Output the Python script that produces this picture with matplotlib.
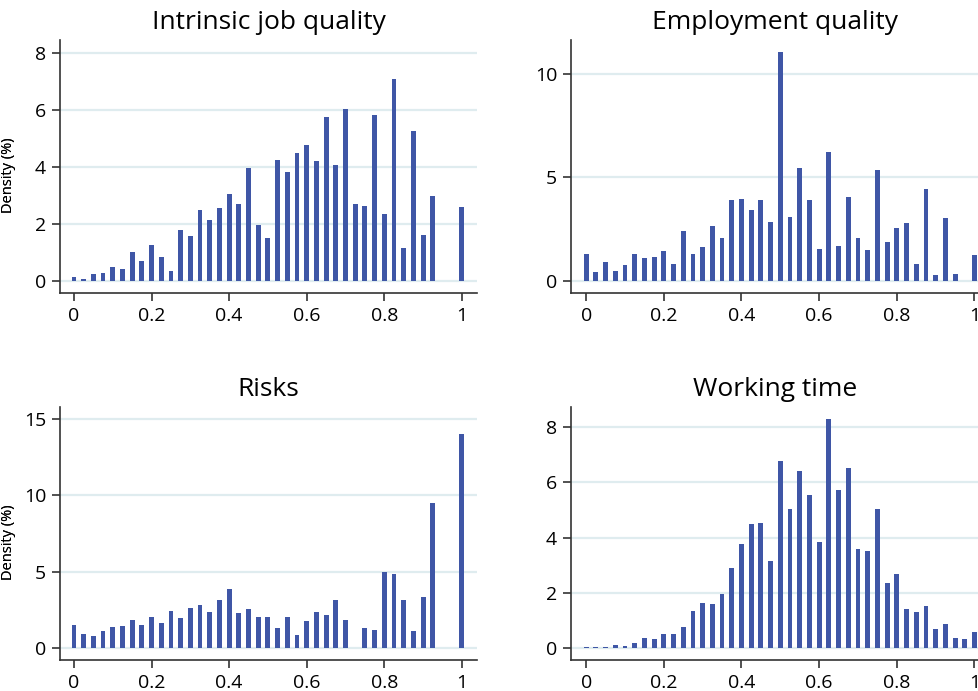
import numpy as np
import matplotlib
matplotlib.use("Agg")
import matplotlib.pyplot as plt

plt.rcParams['font.family'] = ['Open Sans', 'DejaVu Sans']

bins = [i / 40 for i in range(41)]

titles = ["Intrinsic job quality", "Employment quality", "Risks", "Working time"]

intrinsic = [0.14, 0.05, 0.23, 0.26, 0.48, 0.41, 0.99, 0.70, 1.27, 0.83,
             0.34, 1.78, 1.57, 2.49, 2.14, 2.54, 3.04, 2.70, 3.94, 1.97,
             1.50, 4.23, 3.81, 4.47, 4.75, 4.21, 5.74, 4.05, 6.02, 2.69,
             2.62, 5.81, 2.34, 7.09, 1.16, 5.25, 1.60, 2.96, 0.0, 0.0, 2.58]

employment = [1.27, 0.42, 0.93, 0.48, 0.77, 1.30, 1.11, 1.16, 1.45, 0.81,
              2.42, 1.30, 1.64, 2.64, 2.08, 3.91, 3.95, 3.40, 3.91, 2.82,
              11.06, 3.08, 5.46, 3.88, 1.55, 6.22, 1.67, 4.03, 2.08, 1.48,
              5.35, 1.87, 2.54, 2.80, 0.82, 4.44, 0.27, 3.04, 0.34, 0.0, 1.24]

risks = [1.51, 0.92, 0.81, 1.09, 1.36, 1.47, 1.86, 1.49, 2.01, 1.64,
         2.43, 1.97, 2.60, 2.80, 2.34, 3.15, 3.89, 2.32, 2.54, 2.06,
         2.06, 1.33, 2.04, 0.83, 1.77, 2.36, 2.17, 3.17, 1.82, 0.0,
         1.30, 1.19, 5.00, 4.83, 3.15, 1.12, 3.35, 9.50, 0.0, 0.0, 14.0]

working = [0.04, 0.04, 0.04, 0.11, 0.07, 0.20, 0.36, 0.33, 0.51, 0.51,
           0.78, 1.33, 1.62, 1.60, 1.97, 2.90, 3.76, 4.51, 4.52, 3.16,
           6.77, 5.03, 6.42, 5.56, 3.84, 8.29, 5.74, 6.51, 3.58, 3.51,
           5.03, 2.36, 2.70, 1.40, 1.29, 1.51, 0.68, 0.86, 0.36, 0.33, 0.58]

series = [intrinsic, employment, risks, working]
yticks = [[0, 2, 4, 6, 8], [0, 5, 10], [0, 5, 10, 15], [0, 2, 4, 6, 8]]
ylims = [(-0.43, 8.44), (-0.59, 11.63), (-0.79, 15.8), (-0.43, 8.73)]
xticks = [0, 0.2, 0.4, 0.6, 0.8, 1]
xticklabels = ["0", "0.2", "0.4", "0.6", "0.8", "1"]

W, H = 979, 691
fig = plt.figure(figsize=(W / 100, H / 100), dpi=100)

boxes = [(60, 477, 40, 293), (571, 979, 40, 293), (60, 477, 407, 660), (571, 979, 407, 660)]
xlims = [(-0.036, 1.039), (-0.039, 1.0116), (-0.036, 1.039), (-0.039, 1.0116)]

bar_color = "#3f56a6"
grid_color = "#dfecef"

for i in range(4):
    l, r, t, b = boxes[i]
    ax = fig.add_axes([l / W, (H - b) / H, (r - l) / W, (b - t) / H])
    ax.bar(bins, series[i], width=0.0125, color=bar_color, linewidth=0, zorder=3)
    ax.set_xlim(*xlims[i])
    ax.set_ylim(*ylims[i])
    ax.set_yticks(yticks[i])
    ax.set_xticks(xticks)
    ax.set_xticklabels(xticklabels)
    for y in yticks[i]:
        ax.axhline(y, color=grid_color, linewidth=1.6, zorder=1)
    for s in ["top", "right"]:
        ax.spines[s].set_visible(False)
    for s in ["left", "bottom"]:
        ax.spines[s].set_color("#333333")
        ax.spines[s].set_linewidth(1.2)
    ax.tick_params(axis="both", direction="out", length=6, width=1.2,
                   color="#333333", labelsize=14, pad=4)
    ax.set_ylabel("Density (%)", fontsize=10.5)
    ax.yaxis.set_label_coords((16 - l) / (r - l), 0.5 - 9 / (b - t))
    ax.set_title(titles[i], fontsize=19, pad=8)

fig.savefig("out.png", dpi=100)
